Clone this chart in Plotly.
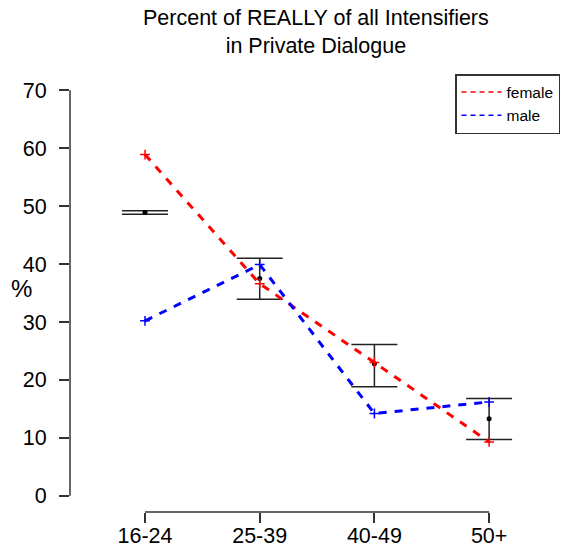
import plotly.graph_objects as go

categories = ["16-24", "25-39", "40-49", "50+"]
xpos = [1, 2, 3, 4]
female = [58.9, 36.6, 23.0, 9.3]
male = [30.2, 39.9, 14.2, 16.2]
mean_vals = [48.9, 37.5, 22.8, 13.3]
err_plus = [0.3, 3.5, 3.3, 3.5]
err_minus = [0.3, 3.6, 4.0, 3.6]
yticks = [0, 10, 20, 30, 40, 50, 60, 70]

FONT = "Liberation Sans, Arial, sans-serif"

fig = go.Figure()

fig.add_trace(go.Scatter(
    x=xpos, y=mean_vals, mode="markers",
    marker=dict(color="black", size=5),
    error_y=dict(type="data", symmetric=False, array=err_plus, arrayminus=err_minus,
                 color="#222222", thickness=1.5, width=23),
    showlegend=False, hoverinfo="skip"))

fig.add_trace(go.Scatter(
    x=xpos, y=female, mode="lines+markers",
    line=dict(color="red", width=3, dash="8px,8px"),
    marker=dict(symbol="cross-thin", size=7, line=dict(color="red", width=1.5)),
    showlegend=False))
fig.add_trace(go.Scatter(
    x=xpos, y=male, mode="lines+markers",
    line=dict(color="blue", width=3, dash="8px,8px"),
    marker=dict(symbol="cross-thin", size=7, line=dict(color="blue", width=1.5)),
    showlegend=False))

# legend entries
fig.add_trace(go.Scatter(x=[None], y=[None], mode="lines", name="female",
                         line=dict(color="red", width=1.5, dash="5px,4px")))
fig.add_trace(go.Scatter(x=[None], y=[None], mode="lines", name="male",
                         line=dict(color="blue", width=1.5, dash="5px,4px")))

# R-style axis lines spanning tick range
fig.add_shape(type="line", xref="paper", yref="y", x0=0, x1=0, y0=yticks[0], y1=yticks[-1],
              line=dict(color="#333333", width=1.5))
fig.add_shape(type="line", xref="x", yref="paper", x0=xpos[0], x1=xpos[-1], y0=0, y1=0,
              line=dict(color="#333333", width=1.5))

fig.update_layout(
    width=561, height=548,
    margin=dict(l=70, r=1, t=74, b=36, autoexpand=False),
    paper_bgcolor="white", plot_bgcolor="white",
    font=dict(family=FONT, color="black"),
    xaxis=dict(range=[0.346, 4.618], tickvals=xpos, ticktext=categories,
               showgrid=False, zeroline=False, showline=False, automargin=False,
               ticks="outside", ticklen=10, tickwidth=1.5, tickcolor="#333333",
               ticklabelstandoff=-6,
               tickfont=dict(size=21.5)),
    yaxis=dict(range=[-2.8, 72.8], tickvals=yticks,
               showgrid=False, zeroline=False, showline=False, automargin=False,
               ticks="outside", ticklen=10, tickwidth=1.5, tickcolor="#333333",
               ticklabelstandoff=8,
               tickfont=dict(size=21.5)),
    legend=dict(x=1, y=1, xanchor="right", yanchor="top",
                bordercolor="#333333", borderwidth=1.5, bgcolor="white",
                font=dict(size=15.5), itemwidth=40, tracegroupgap=0),
    annotations=[
        dict(text="Percent of REALLY of all Intensifiers<br>in Private Dialogue",
             xref="paper", yref="paper", x=0.502, y=1.16,
             showarrow=False, font=dict(size=21.5, family=FONT),
             xanchor="center", yanchor="top", align="center"),
        dict(text="%", xref="paper", yref="paper", x=-0.1, y=0.51,
             showarrow=False, font=dict(size=24, family=FONT),
             xanchor="center", yanchor="middle")],
)

fig.write_html("out.html")
